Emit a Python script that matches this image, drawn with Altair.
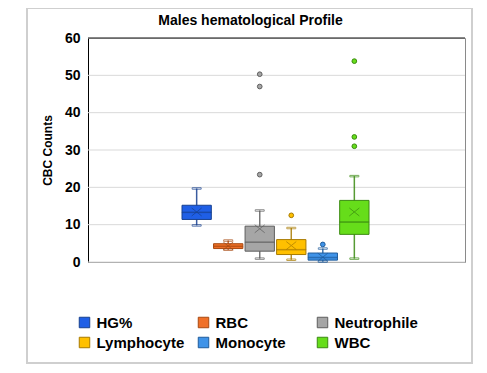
import altair as alt
import pandas as pd

series = ["HG%", "RBC", "Neutrophile", "Lymphocyte", "Monocyte", "WBC"]
q1 = [11.4, 3.6, 2.9, 2.0, 0.5, 7.4]
median = [13.3, 4.2, 5.3, 3.3, 1.2, 10.7]
q3 = [15.2, 4.9, 9.6, 6.0, 2.4, 16.5]
lower = [9.8, 3.3, 0.9, 0.6, 0.1, 0.9]
upper = [19.7, 5.75, 13.8, 9.1, 3.6, 23.0]
mean = [13.4, 4.3, 8.9, 4.4, 1.3, 13.4]
outlier_series = ["Neutrophile", "Neutrophile", "Neutrophile", "Lymphocyte", "Monocyte", "WBC", "WBC", "WBC"]
outlier_values = [23.4, 47.0, 50.3, 12.5, 4.7, 31.0, 33.5, 53.8]
y_ticks = [0, 10, 20, 30, 40, 50, 60]

fills = ["#1f5fe6", "#f07028", "#a6a6a6", "#ffc000", "#3f93e8", "#66dd1a"]
strokes = ["#17408f", "#a84a12", "#5e5e5e", "#a87a00", "#1f5c9c", "#3a8a10"]

W, H = 377, 224
FONT = "Liberation Sans"

df = pd.DataFrame({"series": series, "stroke_key": series, "q1": q1, "median": median, "q3": q3,
                   "lower": lower, "upper": upper, "mean": mean})
dfo = pd.DataFrame({"series": outlier_series, "stroke_key": outlier_series, "value": outlier_values})
dft = pd.DataFrame({"tick": y_ticks})
dfl = pd.DataFrame({"series": series, "stroke_key": series,
                    "col": [i % 3 for i in range(len(series))],
                    "row": [i // 3 for i in range(len(series))]})

xs = alt.X("series:N", sort=series, axis=None,
           scale=alt.Scale(paddingInner=0.07, paddingOuter=0, range=[94, 281]))
fill_scale = alt.Scale(domain=series, range=fills)
stroke_scale = alt.Scale(domain=series, range=strokes)
yscale = alt.Scale(domain=[0, 60], nice=False)
yaxis = alt.Axis(values=y_ticks, grid=False, ticks=False, labelOverlap=False,
                 domainColor="#000000", labelFont=FONT, labelFontSize=14,
                 labelFontWeight="bold", labelColor="#000000", labelPadding=8,
                 title="CBC Counts", titleFont=FONT, titleFontSize=12,
                 titleFontWeight="bold", titleColor="#000000", titlePadding=10)

fill_enc = alt.Fill("series:N", scale=fill_scale, legend=None)
stroke_enc = alt.Stroke("stroke_key:N", scale=stroke_scale, legend=None)

frame = alt.Chart(pd.DataFrame({"a": [0]})).mark_rect(
    fill="transparent", stroke="#cfcfcf", strokeWidth=2
).encode(x=alt.value(-61), x2=alt.value(W + 7), y=alt.value(-30), y2=alt.value(325))

grid = alt.Chart(dft).mark_rule(color="#d9d9d9", strokeWidth=1).encode(
    x=alt.value(0), x2=alt.value(W),
    y=alt.Y("tick:Q", scale=yscale, axis=yaxis))

base = alt.Chart(df)

whisker = base.mark_rule(strokeWidth=1.5, opacity=0.85).encode(
    x=xs, y=alt.Y("lower:Q", scale=yscale, axis=yaxis), y2="upper:Q", stroke=stroke_enc)
cap_lo = base.mark_tick(size=9, thickness=1.5).encode(
    x=xs, y=alt.Y("lower:Q", scale=yscale, axis=yaxis), stroke=stroke_enc, fill=alt.value("transparent"))
cap_hi = base.mark_tick(size=9, thickness=1.5).encode(
    x=xs, y=alt.Y("upper:Q", scale=yscale, axis=yaxis), stroke=stroke_enc, fill=alt.value("transparent"))
box = base.mark_bar(strokeWidth=1).encode(
    x=xs, y=alt.Y("q1:Q", scale=yscale, axis=yaxis), y2="q3:Q", fill=fill_enc, stroke=stroke_enc)
med = base.mark_tick(thickness=0.5).encode(
    x=xs, y=alt.Y("median:Q", scale=yscale, axis=yaxis), stroke=stroke_enc,
    fill=alt.value("transparent"), size=alt.value(29))
avg = base.mark_point(shape="M-1,-0.8L1,0.8M-1,0.8L1,-0.8", filled=False, size=100, strokeWidth=1).encode(
    x=xs, y=alt.Y("mean:Q", scale=yscale, axis=yaxis), stroke=stroke_enc)
outl = alt.Chart(dfo).mark_point(shape="circle", filled=True, size=22, strokeWidth=1, opacity=1).encode(
    x=xs, y=alt.Y("value:Q", scale=yscale, axis=yaxis), fill=fill_enc, stroke=stroke_enc)
top = alt.Chart(pd.DataFrame({"a": [0]})).mark_rule(color="#222222", strokeWidth=1).encode(
    x=alt.value(0), x2=alt.value(W), y=alt.value(0))

main = alt.layer(frame, grid, whisker, cap_lo, cap_hi, box, med, avg, outl, top)

lx = alt.X("col:Q", axis=None, scale=alt.Scale(domain=[0, 2], range=[-3.5, 234.5]))
ly = alt.Y("row:Q", axis=None, scale=alt.Scale(domain=[0, 1], range=[284.5, 304.5]))
leg_sym = alt.Chart(dfl).mark_square(size=110, strokeWidth=1, opacity=1).encode(
    x=lx, y=ly, fill=fill_enc, stroke=stroke_enc)
leg_txt = alt.Chart(dfl).mark_text(align="left", baseline="middle", dx=12, font=FONT,
                                   fontSize=15, fontWeight="bold", color="#000000").encode(
    x=lx, y=ly, text="series:N")
legend_layer = alt.layer(leg_sym, leg_txt)

chart = alt.layer(main, legend_layer).resolve_scale(
    x="independent", y="independent", fill="shared", stroke="shared"
).properties(
    width=W, height=H,
    title=alt.Title("Males hematological Profile", font=FONT, fontSize=14, fontWeight="bold",
                    color="#000000", anchor="middle", dx=-26, offset=-21, frame="group"),
    autosize=alt.AutoSizeParams(type="none"),
    padding={"left": 80, "top": 30, "right": 14, "bottom": 103},
).configure(background="white").configure_view(stroke="#8a8a8a", strokeWidth=1)

chart.save("out.html", embed_options={"renderer": "svg", "actions": False})
